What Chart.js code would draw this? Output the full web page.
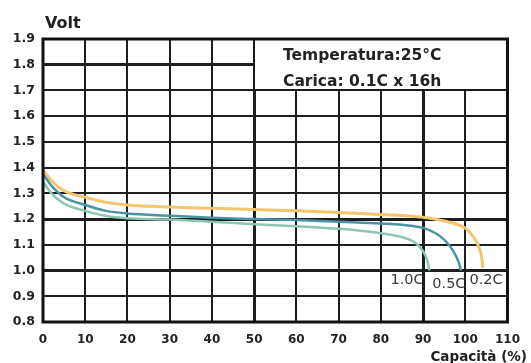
<!DOCTYPE html>
<html>
<head>
<meta charset="utf-8">
<script src="https://cdn.jsdelivr.net/npm/chart.js@4"></script>
<style>
  html, body { margin: 0; padding: 0; background: #fff; }
  #wrap { width: 531px; height: 363px; }
</style>
</head>
<body>
<div id="wrap"><canvas id="chart"></canvas></div>
<script>
const xTicks = [0, 10, 20, 30, 40, 50, 60, 70, 80, 90, 100, 110];
const yTicks = [0.8, 0.9, 1.0, 1.1, 1.2, 1.3, 1.4, 1.5, 1.6, 1.7, 1.8, 1.9];

const seriesNames = ['0.2C', '0.5C', '1.0C'];

const cap02 = [0, 2, 5, 10, 15, 20, 30, 40, 50, 60, 70, 80, 90, 95, 98, 100, 102, 103, 103.8, 104.2];
const volt02 = [1.39, 1.35, 1.31, 1.285, 1.265, 1.255, 1.247, 1.242, 1.237, 1.232, 1.226, 1.218, 1.207, 1.193, 1.18, 1.165, 1.13, 1.10, 1.06, 1.01];

const cap05 = [0, 2, 5, 10, 15, 20, 30, 40, 50, 60, 70, 80, 85, 90, 93, 95, 97, 98.5, 99];
const volt05 = [1.375, 1.33, 1.285, 1.255, 1.232, 1.222, 1.213, 1.205, 1.2, 1.196, 1.19, 1.183, 1.178, 1.166, 1.145, 1.12, 1.08, 1.03, 1.0];

const cap10 = [0, 2, 5, 10, 15, 20, 30, 40, 50, 60, 70, 80, 85, 88, 90, 91, 91.5];
const volt10 = [1.345, 1.3, 1.26, 1.232, 1.212, 1.203, 1.198, 1.19, 1.18, 1.172, 1.162, 1.145, 1.13, 1.11, 1.075, 1.04, 1.0];

const infoLines = ['Temperatura:25°C', 'Carica: 0.1C x 16h'];

function pts(xs, ys) {
  return xs.map((x, i) => ({ x: x, y: ys[i] }));
}

const FONT = '"DejaVu Sans", sans-serif';

// cadre, boîte d'info, titres d'axes, étiquettes des courbes
const decor = {
  id: 'decor',
  beforeDatasetsDraw(chart) {
    const c = chart.ctx, x = chart.scales.x, y = chart.scales.y;
    const l = Math.round(x.getPixelForValue(50)), r = Math.round(chart.chartArea.right) + 1;
    const t = Math.round(chart.chartArea.top), b = Math.round(y.getPixelForValue(1.7));
    c.save();
    c.fillStyle = '#fff';
    c.fillRect(l, t, r - l, b - t);
    c.strokeStyle = '#1a1a1a';
    c.lineWidth = 2;
    c.strokeRect(l, t, r - l, b - t);
    c.fillStyle = '#222';
    c.font = 'bold 15.5px ' + FONT;
    c.textBaseline = 'alphabetic';
    c.fillText(infoLines[0], l + 29, t + 21);
    c.fillText(infoLines[1], l + 29, t + 47);
    c.restore();
  },
  afterDraw(chart) {
    const c = chart.ctx, a = chart.chartArea, x = chart.scales.x, y = chart.scales.y;
    c.save();
    c.strokeStyle = '#111';
    c.lineWidth = 3;
    c.strokeRect(a.left, a.top, a.right - a.left, a.bottom - a.top);

    c.fillStyle = '#222';
    c.font = 'bold 16px ' + FONT;
    c.textBaseline = 'alphabetic';
    c.textAlign = 'left';
    c.fillText('Volt', a.left + 2, 28);

    c.font = 'bold 13.5px ' + FONT;
    c.textAlign = 'right';
    c.textBaseline = 'top';
    c.fillText('Capacità (%)', 527, 351);

    // étiquettes 1.0C / 0.5C / 0.2C
    c.font = '14.5px ' + FONT;
    c.fillStyle = '#3a3a3a';
    c.textAlign = 'left';
    c.textBaseline = 'middle';
    c.fillText(seriesNames[2], x.getPixelForValue(82.3), y.getPixelForValue(0.963));
    c.fillText(seriesNames[1], x.getPixelForValue(92.2), y.getPixelForValue(0.948));
    c.fillText(seriesNames[0], x.getPixelForValue(101.0), y.getPixelForValue(0.963));
    c.restore();
  }
};

const thickX = [50, 90];
const thickY = [10, 12, 18];

new Chart(document.getElementById('chart'), {
  type: 'line',
  data: {
    datasets: [
      { label: seriesNames[2], data: pts(cap10, volt10), borderColor: '#8DC6B2', borderWidth: 2.5 },
      { label: seriesNames[1], data: pts(cap05, volt05), borderColor: '#4B93A2', borderWidth: 2.5 },
      { label: seriesNames[0], data: pts(cap02, volt02), borderColor: '#F3C56C', borderWidth: 3 }
    ]
  },
  options: {
    responsive: true,
    maintainAspectRatio: false,
    animation: false,
    layout: { padding: { left: 0, top: 39, right: 15, bottom: 0 } },
    elements: {
      point: { radius: 0 },
      line: { cubicInterpolationMode: 'monotone', fill: false }
    },
    plugins: { legend: { display: false }, tooltip: { enabled: false } },
    scales: {
      x: {
        type: 'linear',
        min: 0, max: 110,
        afterFit(s) { s.height = 41; },
        afterBuildTicks(s) { s.ticks = xTicks.map(v => ({ value: v })); },
        grid: {
          color: '#1e1e1e',
          drawTicks: false,
          lineWidth: ctx => thickX.includes(ctx.tick && ctx.tick.value) ? 3 : 2
        },
        border: { display: false },
        ticks: { padding: 11, color: '#222', font: { family: FONT, size: 12, weight: 'bold' } }
      },
      y: {
        min: 0.8, max: 1.9,
        afterFit(s) { s.width = 43; },
        afterBuildTicks(s) { s.ticks = yTicks.map(v => ({ value: v })); },
        grid: {
          color: '#1e1e1e',
          drawTicks: false,
          lineWidth: ctx => ctx.tick && thickY.includes(Math.round(ctx.tick.value * 10)) ? 3 : 2
        },
        border: { display: false },
        ticks: {
          padding: 8, color: '#222',
          font: { family: FONT, size: 12.5, weight: 'bold' },
          callback: v => v.toFixed(1)
        }
      }
    }
  },
  plugins: [decor]
});
</script>
</body>
</html>
